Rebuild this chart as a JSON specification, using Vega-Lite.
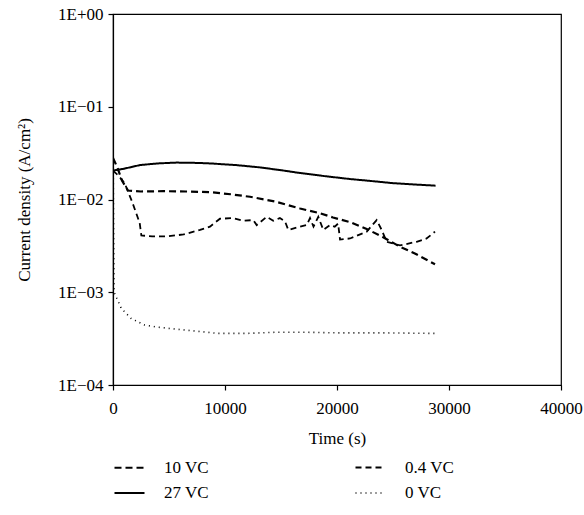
{
  "$schema": "https://vega.github.io/schema/vega-lite/v6.json",
  "autosize": "none",
  "width": 448,
  "height": 371,
  "padding": {"left": 113, "top": 14, "right": 23, "bottom": 130},
  "background": "white",
  "config": {
    "view": {"stroke": "black", "strokeWidth": 1.2},
    "font": "Liberation Serif",
    "axis": {"grid": false, "domainColor": "black", "tickColor": "black", "labelColor": "black", "titleColor": "black", "labelFont": "Liberation Serif", "titleFont": "Liberation Serif", "labelFontSize": 17, "titleFontSize": 17, "titleFontWeight": "normal", "tickSize": 5, "domainWidth": 1.2, "tickWidth": 1.2},
    "legend": {"labelFont": "Liberation Serif", "labelFontSize": 17, "labelColor": "black"}
  },
  "data": {
    "values": [
      {"series": "27 VC", "t": 0, "j": 0.0205},
      {"series": "27 VC", "t": 1000, "j": 0.0215},
      {"series": "27 VC", "t": 2400, "j": 0.0235},
      {"series": "27 VC", "t": 4000, "j": 0.0245},
      {"series": "27 VC", "t": 5700, "j": 0.025},
      {"series": "27 VC", "t": 7500, "j": 0.0248},
      {"series": "27 VC", "t": 8660, "j": 0.0245},
      {"series": "27 VC", "t": 11000, "j": 0.0235},
      {"series": "27 VC", "t": 13100, "j": 0.0222},
      {"series": "27 VC", "t": 15000, "j": 0.0207},
      {"series": "27 VC", "t": 16700, "j": 0.0193},
      {"series": "27 VC", "t": 19000, "j": 0.0178},
      {"series": "27 VC", "t": 21200, "j": 0.0166},
      {"series": "27 VC", "t": 22650, "j": 0.016},
      {"series": "27 VC", "t": 25000, "j": 0.015},
      {"series": "27 VC", "t": 27000, "j": 0.0145},
      {"series": "27 VC", "t": 28800, "j": 0.0141},

      {"series": "10 VC", "t": 0, "j": 0.028},
      {"series": "10 VC", "t": 400, "j": 0.022},
      {"series": "10 VC", "t": 800, "j": 0.016},
      {"series": "10 VC", "t": 1340, "j": 0.0125},
      {"series": "10 VC", "t": 2500, "j": 0.0122},
      {"series": "10 VC", "t": 4500, "j": 0.0123},
      {"series": "10 VC", "t": 6500, "j": 0.0122},
      {"series": "10 VC", "t": 8660, "j": 0.012},
      {"series": "10 VC", "t": 10500, "j": 0.0114},
      {"series": "10 VC", "t": 12230, "j": 0.0107},
      {"series": "10 VC", "t": 14500, "j": 0.0095},
      {"series": "10 VC", "t": 16700, "j": 0.008},
      {"series": "10 VC", "t": 18500, "j": 0.0071},
      {"series": "10 VC", "t": 19640, "j": 0.0064},
      {"series": "10 VC", "t": 21160, "j": 0.0057},
      {"series": "10 VC", "t": 22650, "j": 0.0048},
      {"series": "10 VC", "t": 24000, "j": 0.004},
      {"series": "10 VC", "t": 25620, "j": 0.0031},
      {"series": "10 VC", "t": 27000, "j": 0.0026},
      {"series": "10 VC", "t": 28750, "j": 0.002},

      {"series": "0.4 VC", "t": 0, "j": 0.0205},
      {"series": "0.4 VC", "t": 500, "j": 0.018},
      {"series": "0.4 VC", "t": 1040, "j": 0.015},
      {"series": "0.4 VC", "t": 1700, "j": 0.0095},
      {"series": "0.4 VC", "t": 2380, "j": 0.0056},
      {"series": "0.4 VC", "t": 2530, "j": 0.0041},
      {"series": "0.4 VC", "t": 3500, "j": 0.004},
      {"series": "0.4 VC", "t": 4800, "j": 0.004},
      {"series": "0.4 VC", "t": 6300, "j": 0.0042},
      {"series": "0.4 VC", "t": 7770, "j": 0.0047},
      {"series": "0.4 VC", "t": 8660, "j": 0.0051},
      {"series": "0.4 VC", "t": 9550, "j": 0.0062},
      {"series": "0.4 VC", "t": 10740, "j": 0.0063},
      {"series": "0.4 VC", "t": 11640, "j": 0.0059},
      {"series": "0.4 VC", "t": 12530, "j": 0.006},
      {"series": "0.4 VC", "t": 12830, "j": 0.0053},
      {"series": "0.4 VC", "t": 13720, "j": 0.0065},
      {"series": "0.4 VC", "t": 14310, "j": 0.0059},
      {"series": "0.4 VC", "t": 14900, "j": 0.0063},
      {"series": "0.4 VC", "t": 15360, "j": 0.0058},
      {"series": "0.4 VC", "t": 15650, "j": 0.0047},
      {"series": "0.4 VC", "t": 16700, "j": 0.0051},
      {"series": "0.4 VC", "t": 17300, "j": 0.0053},
      {"series": "0.4 VC", "t": 17590, "j": 0.0063},
      {"series": "0.4 VC", "t": 17900, "j": 0.0051},
      {"series": "0.4 VC", "t": 18330, "j": 0.0065},
      {"series": "0.4 VC", "t": 18780, "j": 0.0047},
      {"series": "0.4 VC", "t": 19380, "j": 0.0053},
      {"series": "0.4 VC", "t": 19800, "j": 0.0051},
      {"series": "0.4 VC", "t": 20100, "j": 0.0055},
      {"series": "0.4 VC", "t": 20270, "j": 0.0037},
      {"series": "0.4 VC", "t": 21160, "j": 0.0038},
      {"series": "0.4 VC", "t": 22650, "j": 0.0045},
      {"series": "0.4 VC", "t": 23540, "j": 0.006},
      {"series": "0.4 VC", "t": 23990, "j": 0.0047},
      {"series": "0.4 VC", "t": 24430, "j": 0.0035},
      {"series": "0.4 VC", "t": 25620, "j": 0.0032},
      {"series": "0.4 VC", "t": 27110, "j": 0.0035},
      {"series": "0.4 VC", "t": 28000, "j": 0.0038},
      {"series": "0.4 VC", "t": 28750, "j": 0.0045},

      {"series": "0 VC", "t": 0, "j": 0.085},
      {"series": "0 VC", "t": 40, "j": 0.01},
      {"series": "0 VC", "t": 100, "j": 0.001},
      {"series": "0 VC", "t": 740, "j": 0.00067},
      {"series": "0 VC", "t": 1630, "j": 0.00052},
      {"series": "0 VC", "t": 2830, "j": 0.000443},
      {"series": "0 VC", "t": 4000, "j": 0.00042},
      {"series": "0 VC", "t": 5500, "j": 0.000402},
      {"series": "0 VC", "t": 7500, "j": 0.00038},
      {"series": "0 VC", "t": 9375, "j": 0.00036},
      {"series": "0 VC", "t": 12000, "j": 0.00036},
      {"series": "0 VC", "t": 14440, "j": 0.00037},
      {"series": "0 VC", "t": 17400, "j": 0.00037},
      {"series": "0 VC", "t": 20000, "j": 0.000365},
      {"series": "0 VC", "t": 24000, "j": 0.000365},
      {"series": "0 VC", "t": 28700, "j": 0.00036}
    ]
  },
  "mark": {"type": "line", "color": "black", "clip": true},
  "encoding": {
    "x": {"field": "t", "type": "quantitative", "scale": {"domain": [0, 40000], "nice": false}, "axis": {"title": "Time (s)", "values": [0, 10000, 20000, 30000, 40000], "format": "d", "labelPadding": 10, "titlePadding": 14, "labelFlush": false, "labelOverlap": false}},
    "y": {"field": "j", "type": "quantitative", "scale": {"type": "log", "domain": [0.0001, 1], "nice": false}, "axis": {"title": "Current density (A/cm²)", "values": [0.0001, 0.001, 0.01, 0.1, 1], "labelExpr": "datum.value >= 1 ? '1E+00' : '1E\u22120' + round(-log(datum.value)/LN10)", "labelPadding": 5, "titlePadding": 24, "labelFlush": false}},
    "order": {"field": "t", "type": "quantitative"},
    "strokeDash": {"field": "series", "type": "nominal", "scale": {"domain": ["10 VC", "27 VC", "0.4 VC", "0 VC"], "range": [[7, 4], [1, 0], [6, 4], [1, 4]]}, "legend": {"title": null, "orient": "none", "legendX": 0, "legendY": 437, "columns": 2, "columnPadding": 142, "rowPadding": 1, "symbolType": "stroke", "symbolSize": 900, "symbolStrokeColor": "black", "labelOffset": 18, "padding": 0}},
    "strokeWidth": {"field": "series", "type": "nominal", "scale": {"domain": ["10 VC", "27 VC", "0.4 VC", "0 VC"], "range": [2.2, 1.6, 1.5, 1.2]}, "legend": {"title": null, "orient": "none", "legendX": 0, "legendY": 437, "columns": 2, "columnPadding": 142, "rowPadding": 1, "symbolType": "stroke", "symbolSize": 900, "symbolStrokeColor": "black", "labelOffset": 18, "padding": 0}}
  }
}
